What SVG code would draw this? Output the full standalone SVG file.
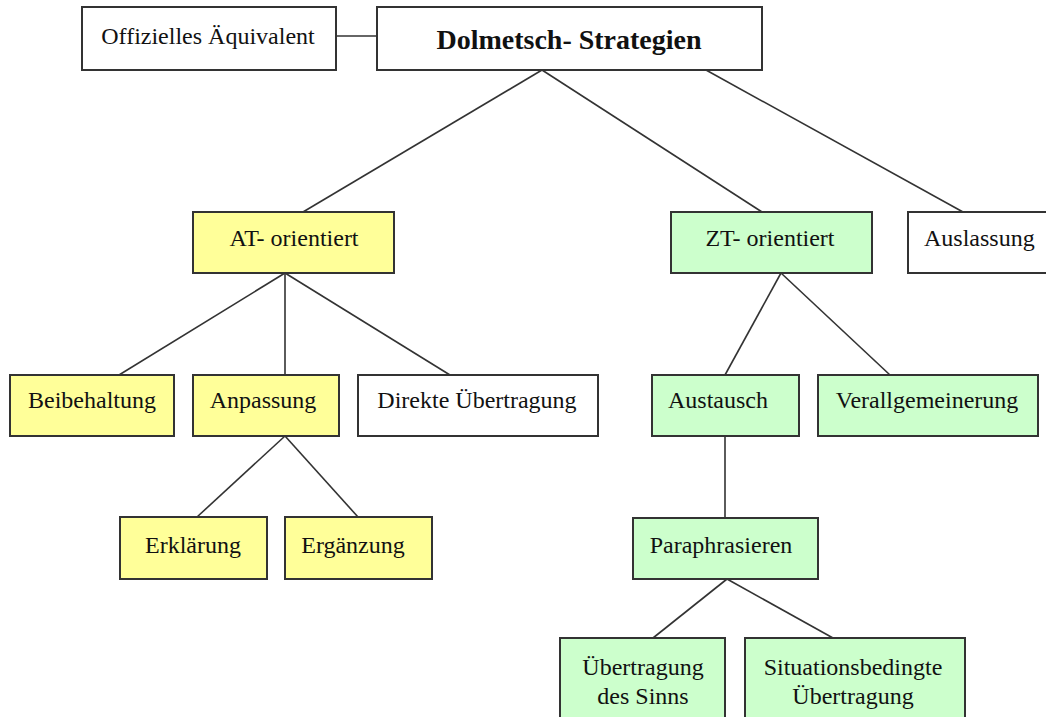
<svg xmlns="http://www.w3.org/2000/svg" width="1046" height="717" viewBox="0 0 1046 717">
<style>
.box{stroke:#333;stroke-width:2}
.w{fill:#fff}
.y{fill:#ffff99}
.g{fill:#ccffcc}
.t{font-family:"Liberation Serif","Times New Roman",serif;font-size:24px;fill:#111}
.b{font-weight:bold;font-size:28px}
.m{text-anchor:middle}
.c line{stroke:#333;stroke-width:1.6}
</style>
<rect width="1046" height="717" fill="#fff"/>
<g class="c" id="connectors">
<line x1="336" y1="36" x2="377" y2="36"/>
<line x1="542" y1="70" x2="303" y2="212"/>
<line x1="542" y1="70" x2="762" y2="212"/>
<line x1="706" y1="70" x2="963" y2="212"/>
<line x1="285" y1="273" x2="119" y2="375"/>
<line x1="285" y1="273" x2="285" y2="375"/>
<line x1="285" y1="273" x2="450" y2="375"/>
<line x1="781" y1="273" x2="725" y2="375"/>
<line x1="781" y1="273" x2="890" y2="375"/>
<line x1="285" y1="436" x2="197" y2="517"/>
<line x1="285" y1="436" x2="358" y2="517"/>
<line x1="725" y1="436" x2="725" y2="517"/>
<line x1="727" y1="579" x2="653" y2="638"/>
<line x1="727" y1="579" x2="833" y2="638"/>
</g>
<g id="offiziell"><rect class="box w" x="82" y="7" width="254" height="63"/><text class="t m" x="208" y="44">Offizielles Äquivalent</text></g>
<g id="dolmetsch"><rect class="box w" x="377" y="7" width="385" height="63"/><text class="t b m" x="569" y="49">Dolmetsch- Strategien</text></g>
<g id="at"><rect class="box y" x="193" y="212" width="201" height="61"/><text class="t m" x="294" y="246">AT- orientiert</text></g>
<g id="zt"><rect class="box g" x="671" y="212" width="201" height="61"/><text class="t m" x="770" y="246">ZT- orientiert</text></g>
<g id="auslassung"><rect class="box w" x="908" y="212" width="150" height="61"/><text class="t" x="924" y="246">Auslassung</text></g>
<g id="beibehaltung"><rect class="box y" x="10" y="375" width="164" height="61"/><text class="t m" x="92" y="408">Beibehaltung</text></g>
<g id="anpassung"><rect class="box y" x="193" y="375" width="146" height="61"/><text class="t m" x="263" y="408">Anpassung</text></g>
<g id="direkte"><rect class="box w" x="358" y="375" width="240" height="61"/><text class="t m" x="477" y="408">Direkte Übertragung</text></g>
<g id="austausch"><rect class="box g" x="652" y="375" width="147" height="61"/><text class="t m" x="718" y="408">Austausch</text></g>
<g id="verallgemeinerung"><rect class="box g" x="818" y="375" width="220" height="61"/><text class="t m" x="927" y="408">Verallgemeinerung</text></g>
<g id="erklaerung"><rect class="box y" x="120" y="517" width="147" height="62"/><text class="t m" x="193" y="553">Erklärung</text></g>
<g id="ergaenzung"><rect class="box y" x="285" y="517" width="147" height="62"/><text class="t m" x="353" y="553">Ergänzung</text></g>
<g id="paraphrasieren"><rect class="box g" x="633" y="518" width="185" height="61"/><text class="t m" x="721" y="553">Paraphrasieren</text></g>
<g id="sinn"><rect class="box g" x="560" y="638" width="165" height="90"/><text class="t m" x="643" y="675">Übertragung</text><text class="t m" x="643" y="704">des Sinns</text></g>
<g id="situation"><rect class="box g" x="745" y="638" width="220" height="90"/><text class="t m" x="853" y="675">Situationsbedingte</text><text class="t m" x="853" y="704">Übertragung</text></g>
</svg>
